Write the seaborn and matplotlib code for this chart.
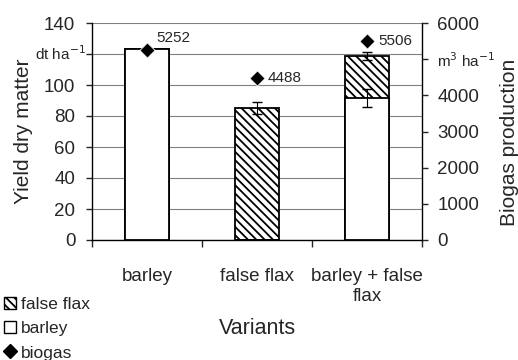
import numpy as np
import pandas as pd
import matplotlib
matplotlib.use("Agg")
import matplotlib.pyplot as plt
from matplotlib.lines import Line2D
from matplotlib.patches import Patch
import seaborn as sns

# Dados
variantes = ["barley", "false flax", "barley + false\nflax"]
cevada = [123, 0, 91.6]          # dt/ha
total = [123, 85, 118.7]         # cevada + false flax
biogas = [5252, 4488, 5506]      # m3/ha
erro_total = [0, 4, 2.5]
erro_cevada = [0, 0, 5.5]

sns.set_style("white")
plt.rcParams['font.family'] = ['Liberation Sans', 'DejaVu Sans']
plt.rcParams['hatch.linewidth'] = 1.3

df = pd.DataFrame({"variante": variantes, "cevada": cevada, "total": total, "biogas": biogas})

fig = plt.figure(figsize=(5.18, 3.6), dpi=100)
ax = fig.add_axes([92/518, 1-240/360, 330/518, 217/360])

# barras totais (hachuradas) e cevada por cima (brancas)
sns.barplot(data=df, x="variante", y="total", ax=ax, color="white", edgecolor="black",
            linewidth=1.3, hatch="\\\\\\\\", width=0.4, zorder=2)
sns.barplot(data=df, x="variante", y="cevada", ax=ax, color="white", edgecolor="black",
            linewidth=1.3, width=0.4, zorder=3)

xs = np.arange(len(variantes))
for i in range(len(variantes)):
    if erro_total[i] > 0:
        ax.errorbar(xs[i], total[i], yerr=erro_total[i], color="black", capsize=3.5, lw=0.8, zorder=4)
    if erro_cevada[i] > 0:
        ax.errorbar(xs[i], cevada[i], yerr=erro_cevada[i], color="black", capsize=3.5, lw=0.8, zorder=4)

ax.set_ylim(0, 140)
ax.set_xlim(-0.5, 2.5)
ax.set_yticks(range(0, 141, 20))
rotulos_esq = [str(v) for v in range(0, 141, 20)]
rotulos_esq[6] = ""
ax.set_yticklabels(rotulos_esq)
ax.yaxis.grid(True, color="#808080", lw=0.8)
ax.set_axisbelow(True)
ax.tick_params(axis="y", left=True, length=4, width=1, labelsize=13.5, pad=8)
ax.set_xticks(xs)
ax.set_xticklabels(variantes, fontsize=13.5, linespacing=1.25)
ax.set_xticks([-0.5, 0.5, 1.5, 2.5], minor=True)
ax.tick_params(axis="x", which="major", length=0, pad=20)
ax.tick_params(axis="x", which="minor", bottom=True, length=5, width=1)
ax.set_xlabel("Variants", fontsize=15.5, labelpad=9)
ax.set_ylabel("Yield dry matter", fontsize=15)
ax.yaxis.set_label_coords(-0.18, 0.5)
for s in ["left", "bottom", "right"]:
    ax.spines[s].set_color("black")
    ax.spines[s].set_linewidth(1)
ax.spines["top"].set_visible(False)

# unidade do eixo esquerdo no lugar do rótulo 120
ax.text(-0.018, 120, "dt ha$^{-1}$", transform=ax.get_yaxis_transform(),
        fontsize=11, ha="right", va="center")

# eixo secundário com o biogás
ax2 = ax.twinx()
sns.scatterplot(x=xs, y=biogas, ax=ax2, marker="D", color="black", s=60, zorder=5)
ax2.set_ylim(0, 6000)
ax2.set_yticks(range(0, 6001, 1000))
rotulos_dir = [str(v) for v in range(0, 6001, 1000)]
rotulos_dir[5] = "m$^3$ ha$^{-1}$"
ax2.set_yticklabels(rotulos_dir)
ax2.tick_params(axis="y", right=True, length=4, width=1, labelsize=13.5, pad=7)
ax2.get_yticklabels()[5].set_fontsize(11)
ax2.set_ylabel("Biogas production", fontsize=15)
ax2.yaxis.set_label_coords(1.236, 0.45)
for s in ["left", "top", "bottom", "right"]:
    ax2.spines[s].set_visible(False)

desloc = [(7, 9), (8, 0), (8, 0)]
for i, v in enumerate(biogas):
    ax2.annotate(str(v), (xs[i], v), xytext=desloc[i], textcoords="offset points",
                 fontsize=11, va="center", ha="left")

handles = [Patch(facecolor="white", edgecolor="black", hatch="\\\\\\\\"),
           Patch(facecolor="white", edgecolor="black"),
           Line2D([], [], marker="D", color="black", ls="", markersize=7)]
fig.legend(handles, ["false flax", "barley", "biogas"], loc="lower left",
           bbox_to_anchor=(-0.022, -0.045), frameon=False, fontsize=12.5,
           handlelength=0.7, handleheight=0.7, handletextpad=0.25, labelspacing=0.52)

plt.savefig("out.png", dpi=100)
